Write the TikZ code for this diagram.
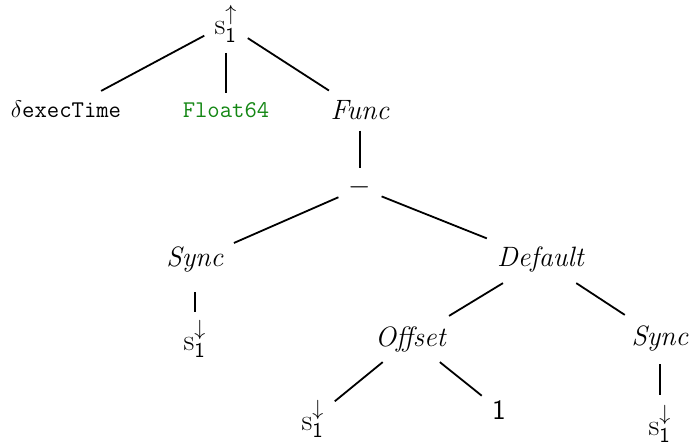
\documentclass[tikz,border=0pt]{standalone}
\usepackage{fontspec}
\definecolor{codegreen}{rgb}{0.08,0.53,0.08}
\tikzset{
  lbl/.style={anchor=base, inner sep=5pt, font=\fontsize{14}{16}\selectfont},
  sym/.style={lbl, font=\fontsize{15}{17}\selectfont},
  mono/.style={lbl, font=\fontsize{12}{14}\selectfont\ttfamily},
  edge/.style={line width=0.9pt}
}
\newcommand{\sdown}{$\mathrm{s}^{\downarrow}_{\mathsf{1}}$}
\begin{document}
\begin{tikzpicture}[x=0.5pt,y=-0.5pt]
\useasboundingbox (0,0) rectangle (689,448);
\node[sym] (r) at (226,35) {$\mathrm{s}^{\uparrow}_{\mathsf{1}}$};
\node[mono] (d) at (66,118) {$\delta$execTime};
\node[mono, text=codegreen] (fl) at (226,118) {Float64};
\node[lbl] (fu) at (360,120) {\textit{Func}};
\node[lbl] (m) at (360,195) {$-$};
\node[lbl] (sl) at (195,267) {\textit{Sync}};
\node[lbl] (de) at (541,267) {\textit{Default}};
\node[sym] (s1) at (195,350) {\sdown};
\node[lbl] (of) at (411,346) {\textit{Offset}};
\node[lbl] (sr) at (660,345) {\textit{Sync}};
\node[sym] (s2) at (313,430) {\sdown};
\node[lbl] (one) at (499,419) {\textsf{1}};
\node[sym] (s3) at (660,435) {\sdown};
\draw[edge] (r) -- (d);
\draw[edge] (r) -- (fl);
\draw[edge] (r) -- (fu);
\draw[edge] (fu) -- (m);
\draw[edge] (m) -- (sl);
\draw[edge] (m) -- (de);
\draw[edge, shorten <=4.5pt, shorten >=-1pt] (sl) -- (s1);
\draw[edge] (de) -- (of);
\draw[edge] (de) -- (sr);
\draw[edge] (of) -- (s2);
\draw[edge] (of) -- (one);
\draw[edge, shorten <=1.5pt] (sr) -- (s3);
\end{tikzpicture}
\end{document}
